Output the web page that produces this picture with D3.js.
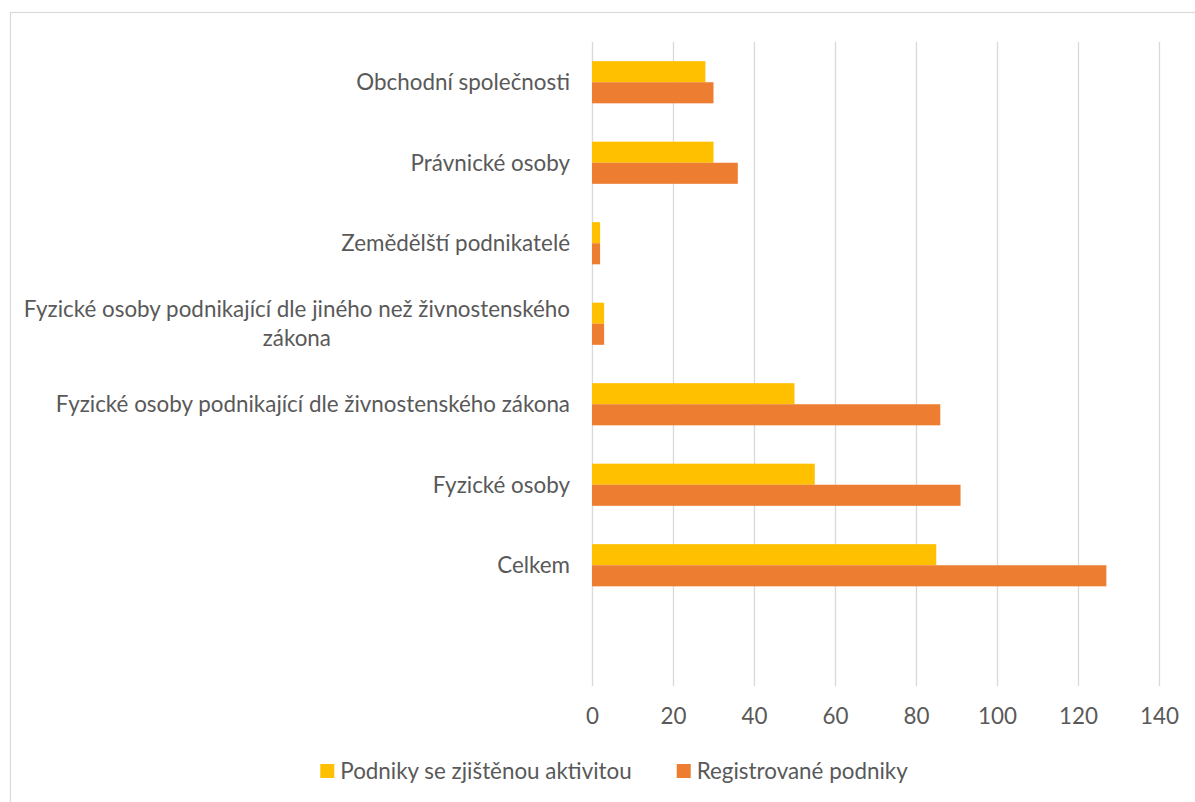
<!DOCTYPE html>
<html><head><meta charset="utf-8">
<script src="https://cdn.jsdelivr.net/npm/d3@7/dist/d3.min.js"></script>
<style>
html,body{margin:0;padding:0;background:#fff;}
svg{display:block;}
text{font-family:Lato,"Open Sans",sans-serif;fill:#595959;}
</style></head>
<body>
<svg id="c" width="1195" height="802"></svg>
<script>
const categories = [
  "Obchodní společnosti",
  "Právnické osoby",
  "Zemědělští podnikatelé",
  "Fyzické osoby podnikající dle jiného než živnostenského zákona",
  "Fyzické osoby podnikající dle živnostenského zákona",
  "Fyzické osoby",
  "Celkem",
  ""
];
const seriesNames = ["Podniky se zjištěnou aktivitou", "Registrované podniky"];
const activeValues = [28, 30, 2, 3, 50, 55, 85, null];
const registeredValues = [30, 36, 2, 3, 86, 91, 127, null];
const xTicks = [0, 20, 40, 60, 80, 100, 120, 140];
const colors = ["#FFC000", "#ED7D31"];

const svg = d3.select("#c");
const FS = 22.4;

svg.append("rect").attr("x",10.5).attr("y",12.5).attr("width",1200).attr("height",800)
  .attr("fill","#fff").attr("stroke","#D9D9D9").attr("stroke-width",1.2);

const x = d3.scaleLinear().domain([0,140]).range([592,1159]);
const y0 = d3.scaleBand().domain(categories).range([42,686]).padding(0);
const y1 = d3.scaleBand().domain(seriesNames).range([0,y0.bandwidth()]).paddingInner(0).paddingOuter(0.91);

// gridlines via axis
const gAxis = svg.append("g").attr("transform","translate(0,686)")
  .call(d3.axisBottom(x).tickValues(xTicks).tickSize(-644).tickPadding(22).tickFormat(d3.format("d")));
gAxis.select(".domain").remove();
gAxis.selectAll(".tick line").attr("stroke","#D9D9D9").attr("stroke-width",1.3);
gAxis.selectAll(".tick text").style("font-size",FS+"px").attr("fill","#595959").attr("dy","0.71em");

// bars
const data = categories.map((c,i)=>({cat:c, vals:[activeValues[i], registeredValues[i]]}));
const groups = svg.append("g").selectAll("g").data(data).join("g")
  .attr("transform", d=>`translate(0,${y0(d.cat)})`);
groups.selectAll("rect").data(d=>d.vals.map((v,j)=>({v, s:seriesNames[j], j})).filter(e=>e.v!=null))
  .join("rect")
  .attr("x", x(0)).attr("y", e=>y1(e.s))
  .attr("width", e=>x(e.v)-x(0)).attr("height", y1.bandwidth())
  .attr("fill", e=>colors[e.j]);

// category labels with wrapping
const maxW = 565, rightX = 570, lineH = 28.5;
const lab = svg.append("g");
categories.forEach(c=>{
  if(!c) return;
  const words = c.split(" ");
  const tmp = lab.append("text").style("font-size",FS+"px");
  let lines = [], cur = "";
  words.forEach(w=>{
    const t = cur ? cur+" "+w : w;
    tmp.text(t);
    if(tmp.node().getComputedTextLength() > maxW && cur){ lines.push(cur); cur = w; }
    else cur = t;
  });
  lines.push(cur);
  let widest = 0;
  lines.forEach(l=>{ tmp.text(l); widest = Math.max(widest, tmp.node().getComputedTextLength()); });
  tmp.remove();
  const cy = y0(c) + y0.bandwidth()/2;
  const cx = rightX - widest/2;
  const t = lab.append("text").attr("text-anchor","middle").style("font-size",FS+"px");
  lines.forEach((l,k)=>{
    t.append("tspan").attr("x",cx)
      .attr("y", cy + (k - (lines.length-1)/2)*lineH)
      .attr("dy","0.35em").text(l);
  });
});

// legend
const leg = svg.append("g");
const items = seriesNames.map((s,i)=>{
  const g = leg.append("g");
  g.append("rect").attr("width",14).attr("height",14).attr("y",-7).attr("fill",colors[i]);
  const tx = g.append("text").attr("x",20).attr("dy","0.35em").style("font-size",FS+"px").text(s);
  return {g, w: 20 + tx.node().getComputedTextLength()};
});
const gap = 45;
const total = d3.sum(items, d=>d.w) + gap*(items.length-1);
let lx = 614 - total/2;
items.forEach(it=>{ it.g.attr("transform",`translate(${lx},771)`); lx += it.w + gap; });
</script>
</body></html>
